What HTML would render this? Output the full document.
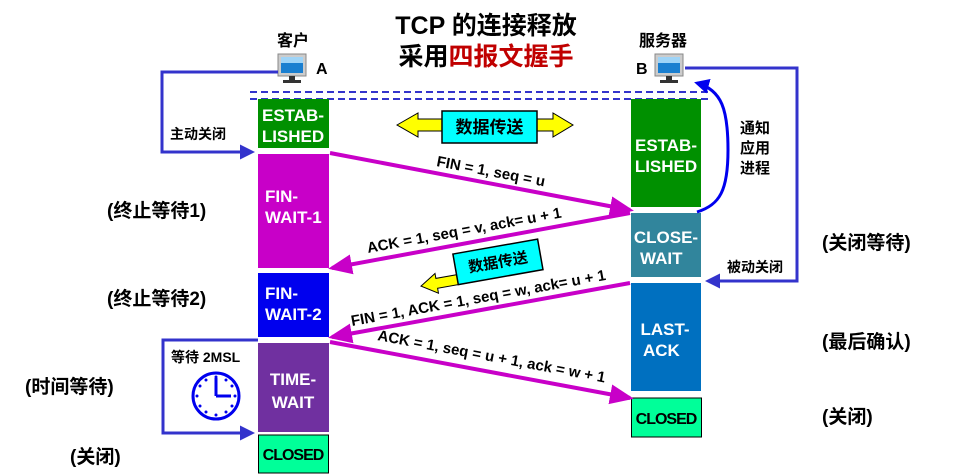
<!DOCTYPE html>
<html><head><meta charset="utf-8"><style>
body{margin:0;background:#fff}
svg{display:block;font-family:"Liberation Sans","Noto Sans CJK SC",sans-serif;font-weight:bold}
.w{fill:#fff;font-size:17px}
.k{fill:#000}
</style></head><body>
<svg width="965" height="475" viewBox="0 0 965 475">
<defs>
<marker id="mp" markerWidth="6" markerHeight="6" refX="5" refY="3" orient="auto" markerUnits="strokeWidth"><path d="M0,0.5 L6,3 L0,5.5z" fill="#c800c8"/></marker>
<marker id="mb" markerWidth="5" markerHeight="5" refX="4" refY="2.5" orient="auto" markerUnits="strokeWidth"><path d="M0,0 L5,2.5 L0,5z" fill="#3333cc"/></marker>
<marker id="mb2" markerWidth="5" markerHeight="5" refX="4" refY="2.5" orient="auto" markerUnits="strokeWidth"><path d="M0,0 L5,2.5 L0,5z" fill="#0000ee"/></marker>
<g id="pc"><rect x="0" y="0" width="28" height="22" fill="#ccc" stroke="#888"/><rect x="3" y="3" width="22" height="16" fill="#1a7fd0"/><rect x="3" y="3" width="22" height="6" fill="#9fd4f7"/><rect x="11" y="22" width="6" height="4" fill="#333"/><rect x="5" y="26" width="18" height="3" fill="#333"/></g>
</defs>
<text x="486" y="34" font-size="25" text-anchor="middle" class="k">TCP 的连接释放</text>
<text x="486" y="65" font-size="25" text-anchor="middle"><tspan fill="#000">采用</tspan><tspan fill="#c00000">四报文握手</tspan></text>
<text x="293" y="46" font-size="16" text-anchor="middle" class="k">客户</text>
<use href="#pc" x="278" y="54"/>
<text x="316" y="74" font-size="16" class="k">A</text>
<text x="663" y="46" font-size="16" text-anchor="middle" class="k">服务器</text>
<use href="#pc" x="655" y="54"/>
<text x="636" y="74" font-size="16" class="k">B</text>
<line x1="250" y1="92" x2="708" y2="92" stroke="#3333cc" stroke-width="2" stroke-dasharray="7,4"/>
<line x1="250" y1="99" x2="708" y2="99" stroke="#3333cc" stroke-width="2" stroke-dasharray="7,4"/>
<!-- left boxes -->
<rect x="258" y="99" width="71" height="49" fill="#009000"/>
<text x="293" y="121" class="w" text-anchor="middle">ESTAB-</text><text x="293" y="142" class="w" text-anchor="middle">LISHED</text>
<rect x="258" y="154" width="71" height="114" fill="#c800c8"/>
<text x="265" y="202" class="w">FIN-</text><text x="265" y="223" class="w">WAIT-1</text>
<rect x="258" y="273" width="71" height="64" fill="#0000ee"/>
<text x="265" y="299" class="w">FIN-</text><text x="265" y="320" class="w">WAIT-2</text>
<rect x="258" y="343" width="71" height="89" fill="#7030a0"/>
<text x="293" y="385" class="w" text-anchor="middle">TIME-</text><text x="293" y="408" class="w" text-anchor="middle">WAIT</text>
<rect x="258.5" y="435" width="70" height="38" fill="#00ff99" stroke="#000"/>
<text x="293" y="460" font-size="16" text-anchor="middle" class="k" letter-spacing="-1">CLOSED</text>
<!-- right boxes -->
<rect x="631" y="99" width="70" height="108" fill="#009000"/>
<text x="666" y="151" class="w" text-anchor="middle">ESTAB-</text><text x="666" y="172" class="w" text-anchor="middle">LISHED</text>
<rect x="631" y="213" width="70" height="64" fill="#31859c"/>
<text x="666" y="243" class="w" text-anchor="middle">CLOSE-</text><text x="640" y="264" class="w">WAIT</text>
<rect x="631" y="283" width="70" height="108" fill="#0070c0"/>
<text x="665" y="335" class="w" text-anchor="middle">LAST-</text><text x="643" y="356" class="w">ACK</text>
<rect x="631.5" y="398" width="70" height="39" fill="#00ff99" stroke="#000"/>
<text x="666" y="424" font-size="16" text-anchor="middle" class="k" letter-spacing="-1">CLOSED</text>
<!-- data transfer top -->
<polygon points="397,125 418,113 418,119 553,119 553,113 573,125 553,137 553,131 418,131 418,137" fill="#ffff00" stroke="#000"/>
<rect x="442" y="111" width="95" height="32" fill="#00ffff" stroke="#000" stroke-width="1.5"/>
<text x="489.5" y="133" font-size="17" text-anchor="middle" class="k">数据传送</text>
<!-- arrows -->
<line x1="330" y1="153" x2="630" y2="210" stroke="#c800c8" stroke-width="4" marker-end="url(#mp)"/>
<text font-size="15" class="k" transform="translate(436,166) rotate(10.7)">FIN = 1, seq = u</text>
<line x1="630" y1="213" x2="332" y2="268" stroke="#c800c8" stroke-width="4" marker-end="url(#mp)"/>
<text font-size="15" class="k" transform="translate(368,253) rotate(-10.4)">ACK = 1, seq = v, ack= u + 1</text>
<line x1="630" y1="283" x2="332" y2="337" stroke="#c800c8" stroke-width="4" marker-end="url(#mp)"/>
<text font-size="15" class="k" transform="translate(352,326) rotate(-10.3)">FIN = 1, ACK = 1, seq = w, ack= u + 1</text>
<line x1="330" y1="342" x2="630" y2="398" stroke="#c800c8" stroke-width="4" marker-end="url(#mp)"/>
<text font-size="15" class="k" transform="translate(377,340) rotate(10.6)">ACK = 1, seq = u + 1, ack = w + 1</text>
<!-- small data transfer -->
<g transform="rotate(-10 500 262)">
<polygon points="418,272 434,262 434,267 470,267 470,277 434,277 434,282" fill="#ffff00" stroke="#000"/>
<rect x="455" y="246" width="86" height="31" fill="#00ffff" stroke="#000" stroke-width="1.5"/>
<text x="498" y="267" font-size="15" text-anchor="middle" class="k">数据传送</text>
</g>
<!-- blue connectors -->
<polyline points="278,72 162,72 162,152 252,152" fill="none" stroke="#3333cc" stroke-width="3" marker-end="url(#mb)"/>
<text x="170" y="139" font-size="14" class="k">主动关闭</text>
<polyline points="685,68 797,68 797,281 708,281" fill="none" stroke="#3333cc" stroke-width="3" marker-end="url(#mb)"/>
<text x="727" y="272" font-size="14" class="k">被动关闭</text>
<path d="M697,212 C720,205 728,190 728,150 C728,110 722,90 697,83" fill="none" stroke="#0000ee" stroke-width="3" marker-end="url(#mb2)"/>
<text x="740" y="133" font-size="15" class="k">通知</text>
<text x="740" y="153" font-size="15" class="k">应用</text>
<text x="740" y="173" font-size="15" class="k">进程</text>
<polyline points="258,340 163,340 163,433 252,433" fill="none" stroke="#3333cc" stroke-width="3" marker-end="url(#mb)"/>
<text x="171" y="362" font-size="14" class="k">等待 2MSL</text>
<circle cx="216" cy="396" r="23" fill="none" stroke="#0000ee" stroke-width="3"/>
<line x1="216" y1="396" x2="216" y2="378" stroke="#0000ee" stroke-width="3"/>
<line x1="216" y1="396" x2="231" y2="396" stroke="#0000ee" stroke-width="3"/>
<g fill="#0000ee"><circle cx="216" cy="377" r="1.5"/><circle cx="216" cy="415" r="1.5"/><circle cx="197" cy="396" r="1.5"/><circle cx="235" cy="396" r="1.5"/><circle cx="206" cy="380" r="1.5"/><circle cx="226" cy="380" r="1.5"/><circle cx="206" cy="412" r="1.5"/><circle cx="226" cy="412" r="1.5"/><circle cx="200" cy="386" r="1.5"/><circle cx="232" cy="386" r="1.5"/><circle cx="200" cy="406" r="1.5"/><circle cx="232" cy="406" r="1.5"/></g>
<!-- side labels -->
<g font-size="19" class="k">
<text x="107" y="217">(终止等待1)</text>
<text x="107" y="305">(终止等待2)</text>
<text x="25" y="393">(时间等待)</text>
<text x="70" y="463">(关闭)</text>
<text x="822" y="249">(关闭等待)</text>
<text x="822" y="348">(最后确认)</text>
<text x="822" y="423">(关闭)</text>
</g>
</svg>
</body></html>
